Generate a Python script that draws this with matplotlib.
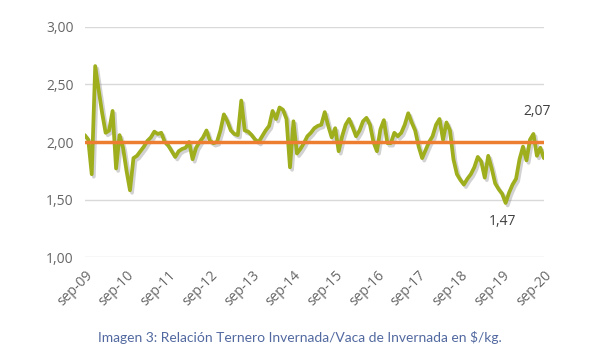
import numpy as np
import matplotlib.pyplot as plt
import matplotlib.patheffects as pe

# Relación Ternero Invernada / Vaca de Invernada, mensual sep-09 a sep-20
ratio = [2.06, 2.02, 1.72, 2.66, 2.45, 2.25, 2.08, 2.10, 2.27, 1.77,
         2.06, 1.95, 1.75, 1.58, 1.86, 1.88, 1.92, 1.96, 2.01, 2.04,
         2.09, 2.07, 2.08, 2.00, 1.97, 1.92, 1.87, 1.92, 1.94, 1.95,
         2.00, 1.85, 1.95, 2.00, 2.04, 2.10, 2.01, 1.99, 2.00, 2.10,
         2.24, 2.18, 2.10, 2.07, 2.06, 2.36, 2.10, 2.09, 2.06, 2.02,
         2.00, 2.05, 2.10, 2.14, 2.27, 2.20, 2.30, 2.28, 2.20, 1.78,
         2.18, 1.90, 1.94, 1.99, 2.05, 2.08, 2.12, 2.14, 2.15, 2.26,
         2.14, 2.04, 2.12, 1.92, 2.05, 2.15, 2.20, 2.13, 2.05, 2.10,
         2.18, 2.21, 2.15, 2.00, 1.92, 2.11, 2.19, 1.99, 1.99, 2.08,
         2.05, 2.08, 2.15, 2.25, 2.17, 2.10, 1.96, 1.86, 1.93, 2.00,
         2.05, 2.15, 2.20, 2.02, 2.17, 2.10, 1.85, 1.72, 1.67, 1.63,
         1.68, 1.72, 1.78, 1.87, 1.83, 1.69, 1.88, 1.77, 1.64, 1.59,
         1.55, 1.47, 1.56, 1.63, 1.68, 1.85, 1.96, 1.84, 2.02, 2.07,
         1.88, 1.95, 1.86]
promedio = 2.00
tick_labels = ["sep-09", "sep-10", "sep-11", "sep-12", "sep-13", "sep-14",
               "sep-15", "sep-16", "sep-17", "sep-18", "sep-19", "sep-20"]
y_ticks = [1.0, 1.5, 2.0, 2.5, 3.0]

meses = np.arange(len(ratio))

fig = plt.figure(figsize=(5.97, 3.55), dpi=100)
ax = fig.add_axes([0.142, 0.276, 0.769, 0.648])

ax.plot(meses, ratio, color="#9EAE1C", linewidth=2.7, solid_joinstyle="round",
        solid_capstyle="round",
        path_effects=[pe.SimpleLineShadow(offset=(1.5, -1.8), shadow_color="#808080", alpha=0.35),
                      pe.Normal()], zorder=3)
ax.axhline(promedio, color="#ED7D31", linewidth=2.5, zorder=4)

# etiquetas de máximo y mínimo
i_min = int(np.argmin(ratio))
i_fin = 129
ax.annotate(f"{ratio[i_fin]:.2f}".replace(".", ","), (meses[i_fin], ratio[i_fin]),
            xytext=(3, 14), textcoords="offset points", ha="center",
            fontsize=10, color="#404040", family="Open Sans")
ax.annotate(f"{ratio[i_min]:.2f}".replace(".", ","), (meses[i_min], ratio[i_min]),
            xytext=(-2, -16), textcoords="offset points", ha="center",
            fontsize=10, color="#404040", family="Open Sans")

ax.set_ylim(1.0, 3.0)
ax.set_xlim(0, len(ratio) - 1)
ax.set_yticks(y_ticks)
ax.set_yticklabels([f"{v:.2f}".replace(".", ",") for v in y_ticks],
                   fontsize=10, color="#666666", family="Open Sans")
ax.set_xticks(np.arange(0, len(ratio), 12))
ax.set_xticklabels(tick_labels, rotation=45, ha="right", rotation_mode="anchor",
                   fontsize=10, color="#666666", family="Open Sans")
ax.tick_params(length=0, pad=8)
ax.grid(axis="y", color="#D9D9D9", linewidth=1)
ax.set_axisbelow(True)
for s in ax.spines.values():
    s.set_visible(False)

fig.text(0.503, 0.05, "Imagen 3: Relación Ternero Invernada/Vaca de Invernada en $/kg.",
         ha="center", va="center", fontsize=10, color="#5269A0", family="Lato")

fig.savefig("out.png", dpi=100)
